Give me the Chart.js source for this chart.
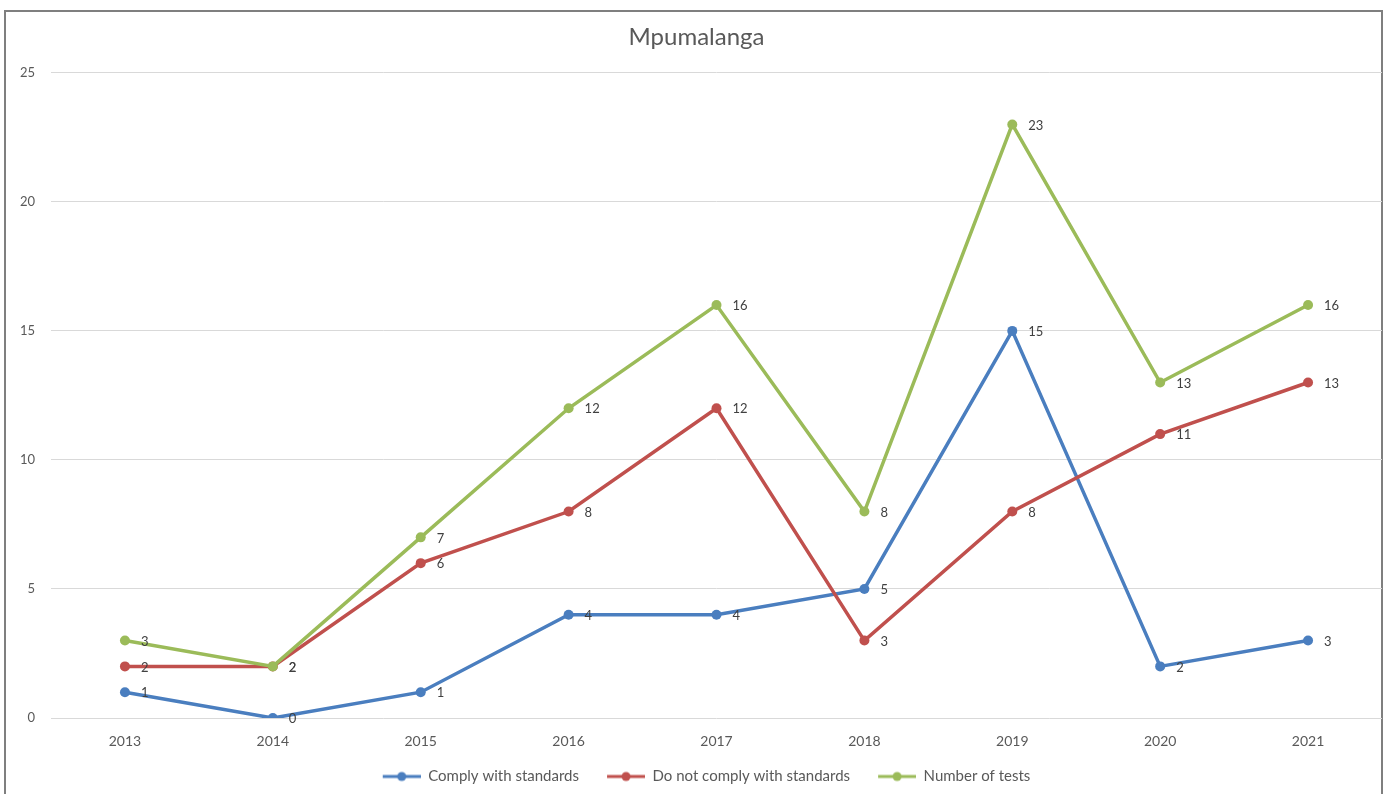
<!DOCTYPE html>
<html lang="en">
<head>
  <meta charset="UTF-8" />
  <title>Mpumalanga</title>
  <script src="https://cdn.jsdelivr.net/npm/chart.js"></script>
  <style>
    body { margin: 0; background: #fff; }
    #marco {
      position: absolute; left: 4px; top: 10px;
      width: 1375px; height: 784px;
      border: 2px solid #7f7f7f; border-bottom: none;
      overflow: visible;
    }
    #grafico { display: block; position: relative; z-index: 0; }
  </style>
</head>
<body>
  <div id="marco"><canvas id="grafico" width="1381" height="784"></canvas></div>

  <script>
    const years = ["2013", "2014", "2015", "2016", "2017", "2018", "2019", "2020", "2021"];
    const comply = [1, 0, 1, 4, 4, 5, 15, 2, 3];
    const notComply = [2, 2, 6, 8, 12, 3, 8, 11, 13];
    const numTests = [3, 2, 7, 12, 16, 8, 23, 13, 16];
    const seriesNames = ["Comply with standards", "Do not comply with standards", "Number of tests"];
    const seriesColors = ["#4a7ebf", "#c0504d", "#9bbb59"];

    const fuente = "Lato, 'Open Sans', sans-serif";

    // line+dot marker for the legend (with blank space on the left as the gap between items)
    function marcador(color) {
      const c = document.createElement("canvas");
      c.width = 58; c.height = 12;
      const g = c.getContext("2d");
      g.strokeStyle = color; g.lineWidth = 3;
      g.beginPath(); g.moveTo(20, 6); g.lineTo(58, 6); g.stroke();
      g.fillStyle = color;
      g.beginPath(); g.arc(39, 6, 4.5, 0, Math.PI * 2); g.fill();
      return c;
    }

    const etiquetas = {
      id: "etiquetas",
      afterDatasetsDraw(chart) {
        const ctx = chart.ctx;
        ctx.save();
        ctx.font = "13px " + fuente;
        ctx.fillStyle = "#404040";
        ctx.textAlign = "left";
        ctx.textBaseline = "middle";
        chart.data.datasets.forEach((ds, i) => {
          chart.getDatasetMeta(i).data.forEach((pt, j) => {
            ctx.fillText(String(ds.data[j]), pt.x + 16, pt.y + 1);
          });
        });
        ctx.restore();
      }
    };

    const valores = [comply, notComply, numTests];
    const datasets = valores.map((v, i) => ({
      label: seriesNames[i],
      data: v,
      borderColor: seriesColors[i],
      backgroundColor: seriesColors[i],
      borderWidth: 3.5,
      pointRadius: 5,
      pointHoverRadius: 5,
      pointBorderWidth: 0,
      pointStyle: "circle",
      legendMarker: marcador(seriesColors[i]),
      order: 3 - i
    }));

    new Chart(document.getElementById("grafico"), {
      type: "line",
      data: { labels: years, datasets: datasets },
      options: {
        responsive: false,
        animation: false,
        layout: { padding: { top: 0, right: 0, bottom: 2, left: 0 } },
        plugins: {
          title: {
            display: true,
            text: "Mpumalanga",
            color: "#595959",
            font: { family: fuente, size: 24, weight: "normal" },
            padding: { top: 11, bottom: 21 }
          },
          legend: {
            position: "bottom",
            labels: {
              usePointStyle: true,
              pointStyleWidth: 58,
              color: "#595959",
              font: { family: fuente, size: 15 },
              padding: 8,
              generateLabels(chart) {
                return chart.data.datasets.map((d, i) => ({
                  text: d.label,
                  datasetIndex: i,
                  pointStyle: d.legendMarker,
                  fillStyle: d.borderColor,
                  strokeStyle: d.borderColor,
                  lineWidth: 0,
                  fontColor: "#595959",
                  hidden: false
                }));
              }
            }
          },
          tooltip: { enabled: false }
        },
        scales: {
          x: {
            offset: true,
            afterFit(scale) { scale.height = 43; },
            grid: { display: false },
            border: { display: false },
            ticks: { color: "#595959", font: { family: fuente, size: 14 }, padding: 7 }
          },
          y: {
            min: 0,
            max: 25,
            afterFit(scale) { scale.width = 45; },
            grid: { color: "#d9d9d9", lineWidth: 1, drawTicks: false },
            border: { display: false },
            ticks: { stepSize: 5, color: "#595959", font: { family: fuente, size: 13 }, padding: 16 }
          }
        }
      },
      plugins: [etiquetas]
    });
  </script>
</body>
</html>
